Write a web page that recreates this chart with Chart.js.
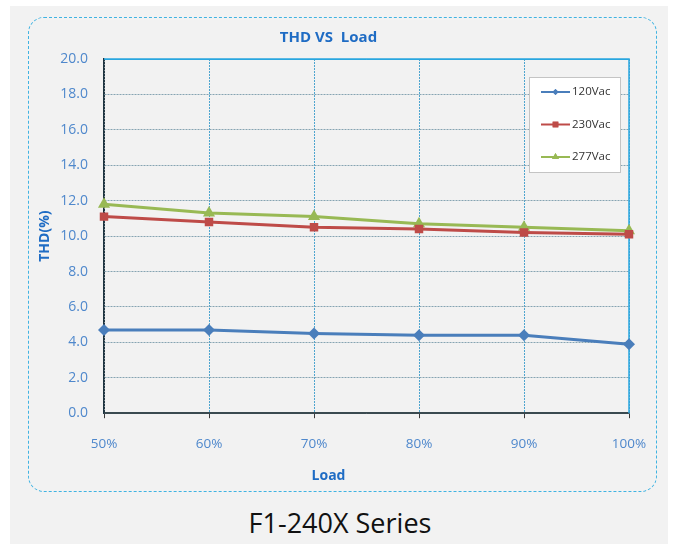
<!DOCTYPE html>
<html>
<head>
<meta charset="utf-8">
<script src="https://cdn.jsdelivr.net/npm/chart.js@4.4.1/dist/chart.umd.min.js"></script>
<style>
  html, body { margin: 0; padding: 0; background: #fff; }
  body { width: 673px; height: 544px; position: relative; overflow: hidden; }
  #sheet { position: absolute; left: 10px; top: 6px; width: 658px; height: 538px; background: #f2f2f2; }
  #frame {
    position: absolute; left: 28px; top: 17px; width: 629px; height: 475px;
    box-sizing: border-box; border: 1.5px dashed #3fb3e2; border-radius: 16px;
  }
  #chartBox { position: absolute; left: 28px; top: 17px; width: 629px; height: 475px; }
  #caption {
    position: absolute; left: 0; width: 680px; top: 505px; text-align: center;
    font-family: "Open Sans", sans-serif; font-size: 27px; color: #111; line-height: 36px;
  }
</style>
</head>
<body>
<div id="sheet"></div>
<div id="frame"></div>
<div id="chartBox"><canvas id="thdChart" width="629" height="475"></canvas></div>
<div id="caption">F1-240X Series</div>

<script>
// --- Data ---
const loadLabels = ['50%', '60%', '70%', '80%', '90%', '100%'];
const thd120 = [4.7, 4.7, 4.5, 4.4, 4.4, 3.9];
const thd230 = [11.1, 10.8, 10.5, 10.4, 10.2, 10.1];
const thd277 = [11.8, 11.3, 11.1, 10.7, 10.5, 10.3];
const seriesNames = ['120Vac', '230Vac', '277Vac'];

const blueText = '#4f88cc';
const titleBlue = '#1f6cc4';

// legend drawn inside the plot, top-right, in a white box
const boxLegend = {
    id: 'boxLegend',
    afterDatasetsDraw(chart) {
        const { ctx, chartArea } = chart;
        const w = 91, h = 95;
        const x = chartArea.right - 9 - w;
        const y = chartArea.top + 18;
        ctx.save();
        ctx.fillStyle = '#ffffff';
        ctx.strokeStyle = '#c4c4c4';
        ctx.lineWidth = 1;
        ctx.fillRect(x, y, w, h);
        ctx.strokeRect(x + 0.5, y + 0.5, w, h);
        chart.data.datasets.forEach((ds, i) => {
            const cy = y + 15 + i * 32.5;
            ctx.strokeStyle = ds.borderColor;
            ctx.lineWidth = 2;
            ctx.beginPath();
            ctx.moveTo(x + 12, cy);
            ctx.lineTo(x + 41, cy);
            ctx.stroke();
            ctx.fillStyle = ds.borderColor;
            Chart.helpers.drawPoint(ctx, {
                pointStyle: ds.pointStyle,
                radius: ds.pointStyle === 'rectRot' ? 3 : 4,
                borderWidth: 0
            }, x + 26.5, cy);
            ctx.fill();
            ctx.fillStyle = '#333333';
            ctx.font = '11.5px "Open Sans", sans-serif';
            ctx.textBaseline = 'middle';
            ctx.fillText(ds.label, x + 43, cy);
        });
        ctx.restore();
    }
};

// solid blue top and right edges of the plot
const plotEdges = {
    id: 'plotEdges',
    beforeDatasetsDraw(chart) {
        const { ctx, chartArea: a } = chart;
        ctx.save();
        ctx.strokeStyle = '#2aa6df';
        ctx.lineWidth = 1.5;
        ctx.beginPath();
        ctx.moveTo(a.left, a.top);
        ctx.lineTo(a.right, a.top);
        ctx.lineTo(a.right, a.bottom);
        ctx.stroke();
        ctx.restore();
    }
};

const ctx = document.getElementById('thdChart').getContext('2d');
new Chart(ctx, {
    type: 'line',
    data: {
        labels: loadLabels,
        datasets: [
            {
                label: seriesNames[0], data: thd120,
                borderColor: '#4a7ebb', backgroundColor: '#4a7ebb',
                borderWidth: 3, pointStyle: 'rectRot', pointRadius: 6, pointBorderWidth: 0
            },
            {
                label: seriesNames[1], data: thd230,
                borderColor: '#be4b48', backgroundColor: '#be4b48',
                borderWidth: 3, pointStyle: 'rect', pointRadius: 6, pointBorderWidth: 0
            },
            {
                label: seriesNames[2], data: thd277,
                borderColor: '#98b954', backgroundColor: '#98b954',
                borderWidth: 3, pointStyle: 'triangle', pointRadius: 7, pointBorderWidth: 0
            }
        ]
    },
    options: {
        responsive: false,
        animation: false,
        layout: { padding: { left: 0, right: 28, top: 0, bottom: 0 } },
        plugins: {
            legend: { display: false },
            tooltip: { enabled: false },
            title: {
                display: true,
                text: 'THD VS  Load',
                color: titleBlue,
                font: { family: '"Open Sans", sans-serif', size: 15, weight: 'bold' },
                padding: { top: 12, bottom: 12 }
            },
            subtitle: {
                display: true,
                position: 'bottom',
                text: 'Load',
                color: titleBlue,
                font: { family: '"Open Sans", sans-serif', size: 14, weight: 'bold' },
                padding: { top: 0, bottom: 8 }
            }
        },
        scales: {
            x: {
                offset: false,
                afterFit: s => { s.height = 54; s.paddingLeft = 0; s.paddingRight = 0; },
                grid: {
                    color: ctx => ctx.index === 0 ? '#2b3f4a' : '#4ea5cf',
                    lineWidth: 1,
                    tickLength: 5,
                    tickColor: '#3a3a3a',
                    tickBorderDash: []
                },
                border: { display: true, color: '#3a4a50', width: 1.5, dash: [2, 1] },
                ticks: {
                    color: blueText,
                    padding: 18,
                    maxRotation: 0,
                    font: { family: '"Open Sans", sans-serif', size: 13.5 }
                }
            },
            y: {
                min: 0,
                max: 20,
                afterFit: s => { s.width = 76; s.paddingTop = 0; s.paddingBottom = 0; },
                grid: {
                    color: ctx => ctx.tick.value === 0 ? '#3a4a50' : (ctx.tick.value === 20 ? '#2aa6df' : '#86a4b2'),
                    lineWidth: 1,
                    drawTicks: false
                },
                border: {
                    display: true, color: '#1e3440', width: 1.5,
                    dash: ctx => (ctx.tick && (ctx.tick.value === 0 || ctx.tick.value === 20)) ? [] : [2, 1]
                },
                title: {
                    display: true,
                    text: 'THD(%)',
                    color: titleBlue,
                    font: { family: '"Open Sans", sans-serif', size: 14, weight: 'bold' },
                    padding: { top: 9, bottom: 0 }
                },
                ticks: {
                    stepSize: 2,
                    padding: 16,
                    color: blueText,
                    font: { family: '"Open Sans", sans-serif', size: 14 },
                    callback: v => v.toFixed(1)
                }
            }
        }
    },
    plugins: [plotEdges, boxLegend]
});
</script>
</body>
</html>
